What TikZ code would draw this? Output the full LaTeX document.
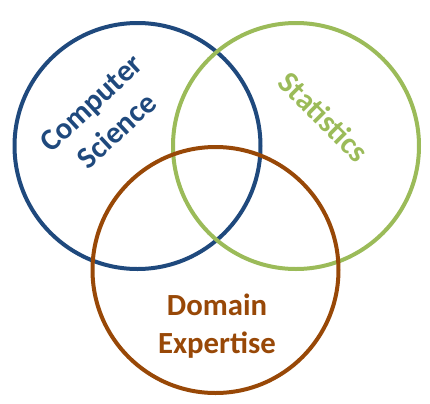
\documentclass[tikz,border=0pt]{standalone}
\usepackage{fontspec}
\setmainfont{Carlito}
\usepackage{tikz}
\usetikzlibrary{calc}
\definecolor{csblue}{HTML}{1F497D}
\definecolor{stgreen}{HTML}{9BBB59}
\definecolor{debrown}{HTML}{984807}
\begin{document}
\begin{tikzpicture}[x=0.02cm, y=-0.02cm, every node/.style={font=\bfseries\fontsize{17.5}{21.5}\selectfont, align=center}]
\def\R{123}
\useasboundingbox (0,0) rectangle (430,403);
\foreach \name/\col/\x/\y in {cs/csblue/137.5/146,st/stgreen/296/146,de/debrown/215.5/270}{%
  \coordinate (\name) at (\x,\y);
  \draw[\col, line width=0.08cm] (\name) circle (\R);}
\node[csblue, rotate=43] (cslabel) at (104,117) {Computer\\Science};
\node[stgreen, rotate=-45] (stlabel) at (324,117) {Statistics};
\node[debrown] (delabel) at (217,326) {Domain\\Expertise};
\end{tikzpicture}
\end{document}
